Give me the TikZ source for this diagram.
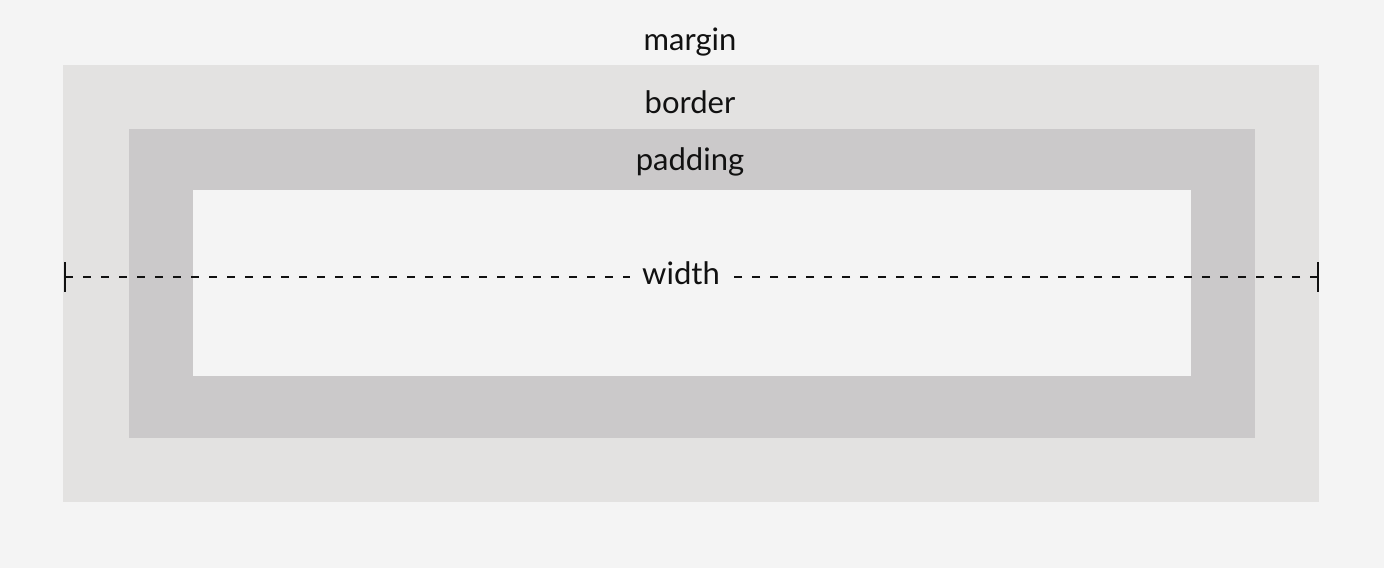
\documentclass[tikz,border=0pt]{standalone}
\usepackage{fontspec}
\setmainfont{Lato}
\definecolor{bg}{HTML}{F4F4F4}
\definecolor{marginc}{HTML}{E3E2E1}
\definecolor{borderc}{HTML}{CBC9CA}
\definecolor{ink}{HTML}{111111}
\begin{document}
\begin{tikzpicture}[x=1pt,y=-1pt,
  lbl/.style={font=\fontsize{31}{34}\selectfont, text=ink, inner sep=0pt, anchor=base},
  dimline/.style={draw=ink, line width=1.5pt, dash pattern=on 8pt off 10pt},
  endbar/.style={draw=ink, line width=2pt}]
\useasboundingbox (0,0) rectangle (1384,568);
\fill[bg] (0,0) rectangle (1384,568);
\fill[marginc] (63,65) rectangle (1319,502);
\fill[borderc] (129,129) rectangle (1255,438);
\fill[bg] (193,190) rectangle (1191,376);
\node[lbl] (margin) at (690,50) {margin};
\node[lbl] (border) at (690,113) {border};
\node[lbl] (padding) at (690,170) {padding};
\node[lbl, inner xsep=12pt] (width) at (681,284) {width};
\coordinate (L) at (65,277);
\coordinate (R) at (1318,277);
\draw[endbar] (65,262) -- (65,292);
\draw[endbar] (1318,262) -- (1318,292);
\draw[dimline] (L) -- (width.west |- L);
\draw[dimline] (R) -- (width.east |- R);
\end{tikzpicture}
\end{document}
